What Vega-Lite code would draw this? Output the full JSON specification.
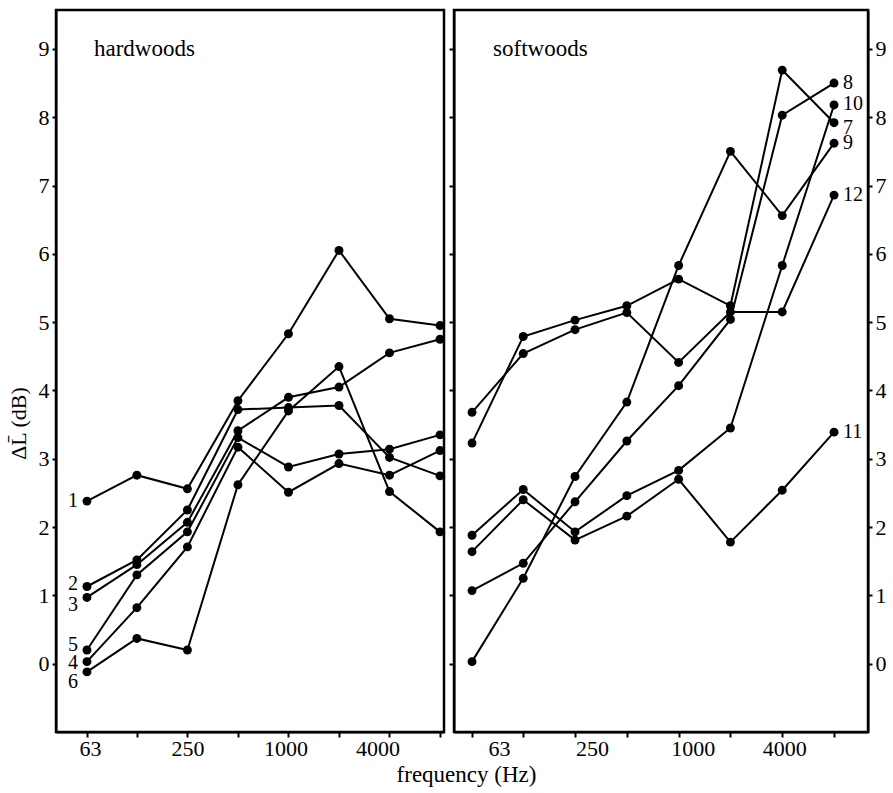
{
  "$schema": "https://vega.github.io/schema/vega-lite/v6.json",
  "background": "white",
  "padding": {"left": 5, "top": 8, "right": 5, "bottom": 5},
  "spacing": 0,
  "config": {
    "font": "Liberation Serif",
    "view": {"stroke": "black", "strokeWidth": 2.5},
    "axis": {"domainColor": "black", "domainWidth": 2, "tickColor": "black", "tickWidth": 2, "labelColor": "black", "labelFont": "Liberation Serif", "labelFontSize": 22, "titleFont": "Liberation Serif", "titleFontSize": 22, "titleFontWeight": "normal", "titleColor": "black", "grid": false}
  },
  "title": {"text": "frequency (Hz)", "orient": "bottom", "anchor": "middle", "fontSize": 23, "fontWeight": "normal", "font": "Liberation Serif", "color": "black", "dx": 20, "offset": 4},
  "datasets": {
    "hard": [
      {"series": "1", "freq": 63, "value": 2.38}, {"series": "1", "freq": 125, "value": 2.76}, {"series": "1", "freq": 250, "value": 2.56}, {"series": "1", "freq": 500, "value": 3.85}, {"series": "1", "freq": 1000, "value": 4.83}, {"series": "1", "freq": 2000, "value": 6.05}, {"series": "1", "freq": 4000, "value": 5.05}, {"series": "1", "freq": 8000, "value": 4.95},
      {"series": "2", "freq": 63, "value": 1.13}, {"series": "2", "freq": 125, "value": 1.52}, {"series": "2", "freq": 250, "value": 2.25}, {"series": "2", "freq": 500, "value": 3.72}, {"series": "2", "freq": 1000, "value": 3.75}, {"series": "2", "freq": 2000, "value": 3.78}, {"series": "2", "freq": 4000, "value": 3.02}, {"series": "2", "freq": 8000, "value": 2.75},
      {"series": "3", "freq": 63, "value": 0.97}, {"series": "3", "freq": 125, "value": 1.45}, {"series": "3", "freq": 250, "value": 2.07}, {"series": "3", "freq": 500, "value": 3.41}, {"series": "3", "freq": 1000, "value": 3.9}, {"series": "3", "freq": 2000, "value": 4.05}, {"series": "3", "freq": 4000, "value": 4.55}, {"series": "3", "freq": 8000, "value": 4.75},
      {"series": "4", "freq": 63, "value": 0.03}, {"series": "4", "freq": 125, "value": 0.82}, {"series": "4", "freq": 250, "value": 1.71}, {"series": "4", "freq": 500, "value": 3.17}, {"series": "4", "freq": 1000, "value": 2.51}, {"series": "4", "freq": 2000, "value": 2.93}, {"series": "4", "freq": 4000, "value": 2.76}, {"series": "4", "freq": 8000, "value": 3.12},
      {"series": "5", "freq": 63, "value": 0.2}, {"series": "5", "freq": 125, "value": 1.3}, {"series": "5", "freq": 250, "value": 1.93}, {"series": "5", "freq": 500, "value": 3.31}, {"series": "5", "freq": 1000, "value": 2.88}, {"series": "5", "freq": 2000, "value": 3.07}, {"series": "5", "freq": 4000, "value": 3.14}, {"series": "5", "freq": 8000, "value": 3.35},
      {"series": "6", "freq": 63, "value": -0.12}, {"series": "6", "freq": 125, "value": 0.37}, {"series": "6", "freq": 250, "value": 0.2}, {"series": "6", "freq": 500, "value": 2.62}, {"series": "6", "freq": 1000, "value": 3.7}, {"series": "6", "freq": 2000, "value": 4.35}, {"series": "6", "freq": 4000, "value": 2.52}, {"series": "6", "freq": 8000, "value": 1.93}
    ],
    "soft": [
      {"series": "7", "freq": 63, "value": 3.23}, {"series": "7", "freq": 125, "value": 4.79}, {"series": "7", "freq": 250, "value": 5.03}, {"series": "7", "freq": 500, "value": 5.24}, {"series": "7", "freq": 1000, "value": 5.63}, {"series": "7", "freq": 2000, "value": 5.24}, {"series": "7", "freq": 4000, "value": 8.69}, {"series": "7", "freq": 8000, "value": 7.92},
      {"series": "8", "freq": 63, "value": 1.07}, {"series": "8", "freq": 125, "value": 1.47}, {"series": "8", "freq": 250, "value": 2.37}, {"series": "8", "freq": 500, "value": 3.26}, {"series": "8", "freq": 1000, "value": 4.07}, {"series": "8", "freq": 2000, "value": 5.04}, {"series": "8", "freq": 4000, "value": 8.03}, {"series": "8", "freq": 8000, "value": 8.5},
      {"series": "9", "freq": 63, "value": 0.03}, {"series": "9", "freq": 125, "value": 1.25}, {"series": "9", "freq": 250, "value": 2.74}, {"series": "9", "freq": 500, "value": 3.83}, {"series": "9", "freq": 1000, "value": 5.83}, {"series": "9", "freq": 2000, "value": 7.5}, {"series": "9", "freq": 4000, "value": 6.56}, {"series": "9", "freq": 8000, "value": 7.62},
      {"series": "10", "freq": 63, "value": 1.88}, {"series": "10", "freq": 125, "value": 2.55}, {"series": "10", "freq": 250, "value": 1.93}, {"series": "10", "freq": 500, "value": 2.46}, {"series": "10", "freq": 1000, "value": 2.83}, {"series": "10", "freq": 2000, "value": 3.45}, {"series": "10", "freq": 4000, "value": 5.83}, {"series": "10", "freq": 8000, "value": 8.18},
      {"series": "11", "freq": 63, "value": 1.64}, {"series": "11", "freq": 125, "value": 2.4}, {"series": "11", "freq": 250, "value": 1.81}, {"series": "11", "freq": 500, "value": 2.16}, {"series": "11", "freq": 1000, "value": 2.7}, {"series": "11", "freq": 2000, "value": 1.78}, {"series": "11", "freq": 4000, "value": 2.54}, {"series": "11", "freq": 8000, "value": 3.39},
      {"series": "12", "freq": 63, "value": 3.68}, {"series": "12", "freq": 125, "value": 4.54}, {"series": "12", "freq": 250, "value": 4.89}, {"series": "12", "freq": 500, "value": 5.14}, {"series": "12", "freq": 1000, "value": 4.41}, {"series": "12", "freq": 2000, "value": 5.15}, {"series": "12", "freq": 4000, "value": 5.15}, {"series": "12", "freq": 8000, "value": 6.86}
    ]
  },
  "hconcat": [
    {
      "width": 388,
      "height": 722,
      "layer": [
        {
          "data": {"name": "hard"},
          "mark": {"type": "line", "color": "black", "strokeWidth": 2, "point": {"filled": true, "size": 80, "color": "black"}},
          "encoding": {
            "x": {"field": "freq", "type": "quantitative", "scale": {"type": "log", "domain": [41.2, 8449], "nice": false}, "axis": {"title": null, "values": [63, 125, 250, 500, 1000, 2000, 4000, 8000], "labelExpr": "(datum.value == 63 || datum.value == 250 || datum.value == 1000 || datum.value == 4000) ? format(datum.value, 'd') : ''", "tickSize": 5, "labelPadding": 1, "labelOffset": {"condition": [{"test": "datum.value == 63", "value": 3}, {"test": "datum.value == 1000", "value": -3}, {"test": "datum.value == 4000", "value": -12}], "value": 0}}},
            "y": {"field": "value", "type": "quantitative", "scale": {"domain": [-1, 9.57], "nice": false, "zero": false}, "axis": {"title": "ΔL̄ (dB)", "format": "d", "values": [0, 1, 2, 3, 4, 5, 6, 7, 8, 9], "tickSize": 4, "labelPadding": 3, "titlePadding": 8, "titleY": 413}},
            "detail": {"field": "series", "type": "nominal"}
          }
        },
        {
          "data": {"name": "hard"},
          "transform": [{"filter": "datum.freq == 63"}],
          "mark": {"type": "text", "align": "right", "baseline": "middle", "dx": -9, "fontSize": 20, "color": "black", "font": "Liberation Serif", "dy": {"expr": "datum.series == '2' ? -3 : datum.series == '3' ? 8 : datum.series == '5' ? -5 : datum.series == '4' ? 1 : datum.series == '6' ? 10 : 0"}},
          "encoding": {
            "x": {"field": "freq", "type": "quantitative"},
            "y": {"field": "value", "type": "quantitative"},
            "text": {"field": "series"}
          }
        },
        {
          "data": {"values": [{}]},
          "mark": {"type": "text", "align": "left", "baseline": "middle", "fontSize": 23, "color": "black", "font": "Liberation Serif"},
          "encoding": {
            "x": {"datum": 69.4, "type": "quantitative"},
            "y": {"datum": 9, "type": "quantitative"},
            "text": {"value": "hardwoods"}
          }
        }
      ]
    },
    {
      "width": 414,
      "height": 722,
      "resolve": {"axis": {"y": "independent"}},
      "layer": [
        {
          "data": {"name": "soft"},
          "mark": {"type": "line", "color": "black", "strokeWidth": 2, "point": {"filled": true, "size": 80, "color": "black"}},
          "encoding": {
            "x": {"field": "freq", "type": "quantitative", "scale": {"type": "log", "domain": [49.5, 12604], "nice": false}, "axis": {"title": null, "values": [63, 125, 250, 500, 1000, 2000, 4000, 8000], "labelExpr": "(datum.value == 63 || datum.value == 250 || datum.value == 1000 || datum.value == 4000) ? format(datum.value, 'd') : ''", "tickSize": 5, "labelPadding": 1, "labelOffset": {"condition": [{"test": "datum.value == 63", "value": 27}, {"test": "datum.value == 250", "value": 17}, {"test": "datum.value == 1000", "value": 14}, {"test": "datum.value == 4000", "value": 2}], "value": 0}}},
            "y": {"field": "value", "type": "quantitative", "scale": {"domain": [-1, 9.57], "nice": false, "zero": false}, "axis": {"orient": "right", "title": null, "format": "d", "values": [0, 1, 2, 3, 4, 5, 6, 7, 8, 9], "tickSize": 4, "labelPadding": 3}},
            "detail": {"field": "series", "type": "nominal"}
          }
        },
        {
          "data": {"name": "soft"},
          "transform": [{"filter": "datum.freq == 8000"}],
          "mark": {"type": "text", "align": "left", "baseline": "middle", "dx": 9, "fontSize": 20, "color": "black", "font": "Liberation Serif", "dy": {"expr": "datum.series == '7' ? 5 : datum.series == '10' ? -1 : 0"}},
          "encoding": {
            "x": {"field": "freq", "type": "quantitative"},
            "y": {"field": "value", "type": "quantitative", "axis": {"orient": "left", "title": null, "labels": false, "values": [0, 1, 2, 3, 4, 5, 6, 7, 8, 9], "tickSize": 5}},
            "text": {"field": "series"}
          }
        },
        {
          "data": {"values": [{}]},
          "mark": {"type": "text", "align": "left", "baseline": "middle", "fontSize": 23, "color": "black", "font": "Liberation Serif"},
          "encoding": {
            "x": {"datum": 83.5, "type": "quantitative"},
            "y": {"datum": 9, "type": "quantitative", "axis": null},
            "text": {"value": "softwoods"}
          }
        }
      ]
    }
  ]
}
